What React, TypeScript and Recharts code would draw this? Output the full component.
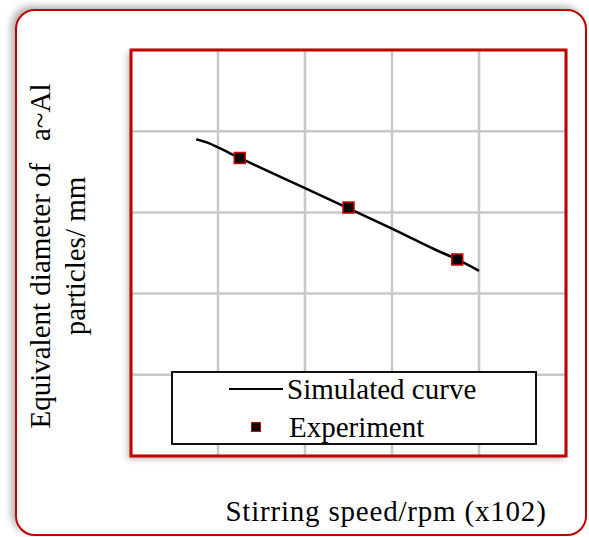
import React from "react";
import {
  CartesianGrid,
  ComposedChart,
  Legend,
  Line,
  ReferenceArea,
  Scatter,
  XAxis,
  YAxis
} from "recharts";

// simulated curve (speed in rpm x100 scaled units, diameter)
const simSpeed = [0.75, 0.9, 1.0, 1.25, 1.5, 2.0, 2.5, 3.0, 3.5, 3.75, 4.0];
const simDiameter = [3.9, 3.85, 3.8, 3.67, 3.545, 3.3, 3.05, 2.8, 2.54, 2.42, 2.28];

// experimental points
const expSpeed = [1.25, 2.5, 3.75];
const expDiameter = [3.67, 3.06, 2.42];

const xTicks = [0, 1, 2, 3, 4, 5];
const yTicks = [0, 1, 2, 3, 4, 5];

const legendOrder = ["Simulated curve", "Experiment"];

const simData = simSpeed.map((x, i) => ({ x, y: simDiameter[i] }));
const expData = expSpeed.map((x, i) => ({ x, y: expDiameter[i] }));

const RED = "#c00000";
const FONT = "'Liberation Serif', 'DejaVu Serif', serif";

const SquareDot = (props: any) => {
  const { cx, cy } = props;
  return (
    <rect
      x={cx - 5.5}
      y={cy - 5.5}
      width={11}
      height={11}
      fill="#000"
      stroke="#d80000"
      strokeWidth={1.5}
    />
  );
};

const LegendBox = (props: any) => {
  const items = [...(props.payload || [])].sort(
    (a: any, b: any) => legendOrder.indexOf(a.value) - legendOrder.indexOf(b.value)
  );
  return (
    <div
      style={{
        position: "relative",
        border: "2px solid #111",
        boxSizing: "border-box",
        width: 366,
        height: 74,
        background: "#fff",
        fontFamily: FONT,
        fontSize: 29,
        color: "#000",
        textAlign: "left"
      }}
    >
      {items.map((item: any, i: number) => (
        <div
          key={item.value}
          style={{
            position: "absolute",
            left: 0,
            top: i * 38,
            display: "flex",
            alignItems: "center",
            height: 32
          }}
        >
          <div style={{ width: 114, position: "relative", height: 32 }}>
            {item.type === "line" ? (
              <div
                style={{
                  position: "absolute",
                  left: 56,
                  top: 15,
                  width: 54,
                  height: 2,
                  background: "#000"
                }}
              />
            ) : (
              <div
                style={{
                  position: "absolute",
                  left: 78,
                  top: 11,
                  width: 8,
                  height: 8,
                  background: "#000",
                  border: "1.5px solid #d80000"
                }}
              />
            )}
          </div>
          <span style={{ marginLeft: item.type === "line" ? 0 : 2 }}>
            {item.value}
          </span>
        </div>
      ))}
    </div>
  );
};

const hiddenTick = { fill: "transparent", fontSize: 1 };

export default function App() {
  return (
    <div
      style={{
        position: "absolute",
        left: 0,
        top: 0,
        width: 589,
        height: 537,
        background: "#fff",
        overflow: "hidden"
      }}
    >
      <div
        style={{
          position: "absolute",
          left: 15,
          top: 9,
          width: 572,
          height: 527,
          boxSizing: "border-box",
          border: `2px solid ${RED}`,
          borderRadius: 20,
          background: "#fff",
          boxShadow: "-4px -3px 7px rgba(0,0,0,0.3)"
        }}
      />
      <div
        style={{
          position: "absolute",
          left: 131,
          top: 50,
          width: 435,
          height: 406,
          background: "#fff",
          boxShadow: "-3px 3px 6px rgba(0,0,0,0.3)"
        }}
      />
      <div style={{ position: "absolute", left: 0, top: 0 }}>
        <ComposedChart
          width={589}
          height={537}
          margin={{ top: 50, right: 23, left: 131, bottom: 81 }}
        >
          <XAxis
            type="number"
            dataKey="x"
            domain={[0, 5]}
            ticks={xTicks}
            tick={hiddenTick}
            tickLine={false}
            axisLine={false}
            height={0}
          />
          <YAxis
            type="number"
            dataKey="y"
            domain={[0, 5]}
            ticks={yTicks}
            tick={hiddenTick}
            tickLine={false}
            axisLine={false}
            width={0}
          />
          <CartesianGrid stroke="#c8c8c8" strokeWidth={2.5} />
          <ReferenceArea
            x1={0}
            x2={5}
            y1={0}
            y2={5}
            fill="none"
            fillOpacity={0}
            stroke={RED}
            strokeWidth={3}
            ifOverflow="visible"
          />
          <Line
            data={simData}
            dataKey="y"
            name="Simulated curve"
            type="monotone"
            stroke="#000"
            strokeWidth={2.5}
            dot={false}
            legendType="line"
            isAnimationActive={false}
          />
          <Scatter
            data={expData}
            dataKey="y"
            name="Experiment"
            shape={<SquareDot />}
            legendType="square"
            fill="#000"
            isAnimationActive={false}
          />
          <Legend
            content={<LegendBox />}
            layout="vertical"
            align="center"
            verticalAlign="middle"
            wrapperStyle={{ position: "absolute", left: 171, top: 371, width: 366, height: 74 }}
          />
        </ComposedChart>
      </div>
      <div
        style={{
          position: "absolute",
          left: 386,
          top: 511,
          transform: "translate(-50%, -50%)",
          whiteSpace: "pre",
          fontFamily: FONT,
          fontSize: 29,
          letterSpacing: 0.8,
          color: "#000"
        }}
      >
        Stirring speed/rpm (x102)
      </div>
      <div
        style={{
          position: "absolute",
          left: 58,
          top: 256,
          width: 420,
          transform: "translate(-50%, -50%) rotate(-90deg)",
          whiteSpace: "pre",
          textAlign: "center",
          fontFamily: FONT,
          fontSize: 29,
          lineHeight: "35px",
          color: "#000"
        }}
      >
        {"Equivalent diameter of   a~Al\nparticles/ mm"}
      </div>
    </div>
  );
}
